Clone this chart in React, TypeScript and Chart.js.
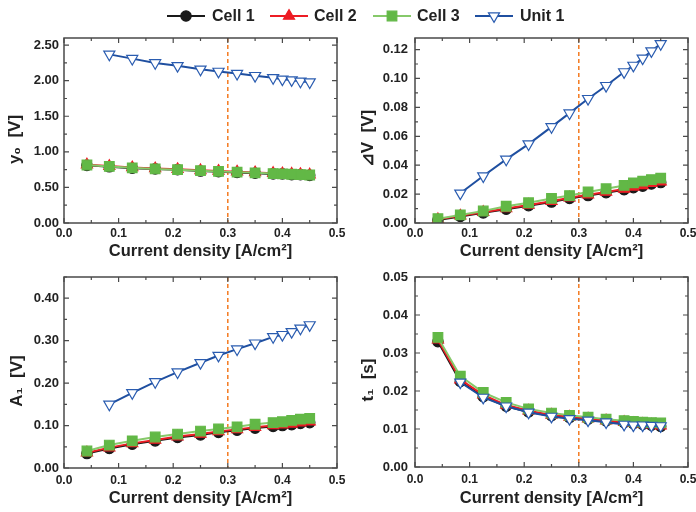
import React, { useEffect, useRef } from "react";
import { Chart, registerables } from "chart.js";

Chart.register(...registerables);

const FONT = '"Liberation Sans", Arial, sans-serif';
const TEXT = "#222222";

// ---------- data ----------
const currentDensity = [0.042, 0.083, 0.125, 0.167, 0.208, 0.25, 0.283, 0.317, 0.35, 0.383, 0.4, 0.417, 0.433, 0.45];
const unitDensity = [0.083, 0.125, 0.167, 0.208, 0.25, 0.283, 0.317, 0.35, 0.383, 0.4, 0.417, 0.433, 0.45];

const y0Cell1 = [0.81, 0.79, 0.77, 0.76, 0.75, 0.73, 0.72, 0.71, 0.70, 0.69, 0.69, 0.68, 0.68, 0.67];
const y0Cell2 = [0.82, 0.80, 0.78, 0.765, 0.755, 0.74, 0.73, 0.72, 0.71, 0.70, 0.695, 0.69, 0.685, 0.68];
const y0Cell3 = [0.815, 0.795, 0.775, 0.76, 0.75, 0.735, 0.725, 0.715, 0.705, 0.695, 0.69, 0.685, 0.68, 0.675];
const y0Unit1 = [2.37, 2.31, 2.25, 2.21, 2.16, 2.13, 2.10, 2.07, 2.04, 2.02, 2.01, 1.99, 1.98];

const dvCell1 = [0.0020, 0.0045, 0.0070, 0.0095, 0.0120, 0.0145, 0.0170, 0.0190, 0.0210, 0.0230, 0.0245, 0.0255, 0.0270, 0.0280];
const dvCell2 = [0.0025, 0.0050, 0.0075, 0.0100, 0.0125, 0.0150, 0.0175, 0.0195, 0.0215, 0.0235, 0.0250, 0.0260, 0.0275, 0.0285];
const dvCell3 = [0.0030, 0.0056, 0.0083, 0.0116, 0.0140, 0.0170, 0.0190, 0.0215, 0.0237, 0.0260, 0.0278, 0.0290, 0.0300, 0.0310];
const dvUnit1 = [0.0206, 0.0325, 0.0440, 0.0546, 0.0665, 0.0760, 0.0860, 0.0950, 0.1045, 0.1090, 0.1140, 0.1190, 0.1240];

const a1Cell1 = [0.034, 0.046, 0.056, 0.064, 0.072, 0.078, 0.084, 0.089, 0.094, 0.098, 0.100, 0.102, 0.105, 0.107];
const a1Cell2 = [0.036, 0.048, 0.058, 0.066, 0.074, 0.080, 0.086, 0.091, 0.096, 0.100, 0.102, 0.104, 0.107, 0.109];
const a1Cell3 = [0.040, 0.054, 0.064, 0.073, 0.080, 0.087, 0.092, 0.097, 0.103, 0.107, 0.109, 0.112, 0.115, 0.117];
const a1Unit1 = [0.150, 0.177, 0.203, 0.226, 0.248, 0.265, 0.280, 0.294, 0.309, 0.314, 0.321, 0.329, 0.337];

const t1Cell1 = [0.0330, 0.0225, 0.0185, 0.0160, 0.0145, 0.0135, 0.0130, 0.0126, 0.0121, 0.0117, 0.0114, 0.0112, 0.0110, 0.0107];
const t1Cell2 = [0.0335, 0.0230, 0.0190, 0.0163, 0.0148, 0.0137, 0.0132, 0.0127, 0.0122, 0.0118, 0.0115, 0.0113, 0.0111, 0.0109];
const t1Cell3 = [0.0341, 0.0239, 0.0196, 0.0170, 0.0153, 0.0142, 0.0136, 0.0131, 0.0126, 0.0122, 0.0120, 0.0118, 0.0117, 0.0116];
const t1Unit1 = [0.0223, 0.0183, 0.0160, 0.0144, 0.0133, 0.0127, 0.0123, 0.0118, 0.0112, 0.0110, 0.0110, 0.0109, 0.0108];

const seriesNames = ["Cell 1", "Cell 2", "Cell 3", "Unit 1"];
const xTitle = "Current density [A/cm²]";
const xTicks = [0, 0.1, 0.2, 0.3, 0.4, 0.5];
const markerX = 0.3;

// ---------- styles ----------
const STYLES: any[] = [
  { line: "#1a1a1a", fill: "#1a1a1a", stroke: "#1a1a1a", shape: "circle", r: 5.2, order: 4 },
  { line: "#ed1c24", fill: "#ed1c24", stroke: "#ed1c24", shape: "triangle", r: 6.4, order: 3 },
  { line: "#86c96a", fill: "#62b846", stroke: "#62b846", shape: "rect", r: 6.8, order: 2 },
  { line: "#1f4fa0", fill: "#ffffff", stroke: "#2a5cb0", shape: "down", r: 6.4, order: 1 },
];

function makeDataset(i: number, xs: number[], ys: number[]) {
  const s = STYLES[i];
  return {
    label: seriesNames[i],
    data: xs.map((x, k) => ({ x, y: ys[k] })),
    showLine: true,
    borderColor: s.line,
    backgroundColor: s.fill,
    borderWidth: 2,
    pointBorderColor: s.stroke,
    pointBackgroundColor: s.fill,
    pointBorderWidth: 1.2,
    pointStyle: s.shape === "down" ? "triangle" : s.shape,
    pointRotation: s.shape === "down" ? 180 : 0,
    pointRadius: s.r,
    pointHoverRadius: s.r,
    order: s.order,
  };
}

function drawMarker(ctx: CanvasRenderingContext2D, s: any, x: number, y: number) {
  ctx.save();
  ctx.fillStyle = s.fill;
  ctx.strokeStyle = s.stroke;
  ctx.lineWidth = 1.2;
  ctx.beginPath();
  const r = s.r;
  if (s.shape === "circle") {
    ctx.arc(x, y, r, 0, Math.PI * 2);
  } else if (s.shape === "rect") {
    const h = r * Math.SQRT1_2;
    ctx.rect(x - h, y - h, 2 * h, 2 * h);
  } else if (s.shape === "triangle") {
    ctx.moveTo(x, y - r);
    ctx.lineTo(x + 0.866 * r, y + r / 2);
    ctx.lineTo(x - 0.866 * r, y + r / 2);
    ctx.closePath();
  } else {
    ctx.moveTo(x, y + r);
    ctx.lineTo(x + 0.866 * r, y - r / 2);
    ctx.lineTo(x - 0.866 * r, y - r / 2);
    ctx.closePath();
  }
  ctx.fill();
  ctx.stroke();
  ctx.restore();
}

// ---------- plugins ----------
const framePlugin = {
  id: "frame",
  beforeDatasetsDraw(chart: any) {
    const { ctx, chartArea: a, scales } = chart;
    const px = scales.x.getPixelForValue(markerX);
    ctx.save();
    ctx.strokeStyle = "#f47a20";
    ctx.lineWidth = 1.5;
    ctx.setLineDash([4, 3]);
    ctx.beginPath();
    ctx.moveTo(px, a.top);
    ctx.lineTo(px, a.bottom);
    ctx.stroke();
    ctx.restore();
  },
  afterDraw(chart: any) {
    const { ctx, chartArea: a, scales } = chart;
    const o = chart.options.plugins.frame;
    ctx.save();
    ctx.strokeStyle = "#4a4a4a";
    ctx.lineWidth = 1.5;
    ctx.strokeRect(a.left, a.top, a.right - a.left, a.bottom - a.top);
    ctx.lineWidth = 1.2;
    const drawX = (v: number, len: number) => {
      const p = scales.x.getPixelForValue(v);
      ctx.beginPath();
      ctx.moveTo(p, a.bottom);
      ctx.lineTo(p, a.bottom - len);
      ctx.moveTo(p, a.top);
      ctx.lineTo(p, a.top + len);
      ctx.stroke();
    };
    const drawY = (v: number, len: number) => {
      const p = scales.y.getPixelForValue(v);
      ctx.beginPath();
      ctx.moveTo(a.left, p);
      ctx.lineTo(a.left + len, p);
      ctx.moveTo(a.right, p);
      ctx.lineTo(a.right - len, p);
      ctx.stroke();
    };
    xTicks.forEach((v, i) => {
      drawX(v, 5);
      if (i < xTicks.length - 1) drawX(v + 0.05, 3);
    });
    for (let v = 0; v <= o.ymax + 1e-9; v += o.ystep) {
      drawY(v, 5);
      if (v + o.ystep / 2 <= o.ymax) drawY(v + o.ystep / 2, 3);
    }
    // y title
    ctx.fillStyle = TEXT;
    ctx.font = `bold 17px ${FONT}`;
    ctx.textAlign = "center";
    ctx.textBaseline = "middle";
    ctx.translate(o.titleX, (a.top + a.bottom) / 2 + o.titleDy);
    ctx.rotate(-Math.PI / 2);
    ctx.fillText(o.yTitle, 0, 0);
    ctx.restore();
  },
};

const legendPlugin = {
  id: "customLegend",
  afterDraw(chart: any) {
    const { ctx } = chart;
    const markers = [186, 289, 392, 494];
    const texts = [212, 314, 417, 520];
    const y = 16;
    seriesNames.forEach((name, i) => {
      const s = STYLES[i];
      ctx.save();
      ctx.strokeStyle = s.line;
      ctx.lineWidth = 2;
      ctx.beginPath();
      ctx.moveTo(markers[i] - 19, y);
      ctx.lineTo(markers[i] + 19, y);
      ctx.stroke();
      ctx.restore();
      drawMarker(ctx, s, markers[i], y);
      ctx.save();
      ctx.fillStyle = TEXT;
      ctx.font = `bold 16px ${FONT}`;
      ctx.textAlign = "left";
      ctx.textBaseline = "middle";
      ctx.fillText(name, texts[i], y + 1);
      ctx.restore();
    });
  },
};

// ---------- panels ----------
type PanelSpec = {
  left: number; top: number; width: number; height: number;
  padTop: number; padRight: number; yWidth: number; xHeight: number;
  ymax: number; ystep: number; ydigits: number;
  yTitle: string; titleX: number; titleDy: number; xTitlePad: number; yTickPad: number; xTickPad: number;
  series: [number[], number[], number[], number[]];
};

const PANELS: PanelSpec[] = [
  { left: 0, top: 30, width: 348, height: 230, padTop: 3, padRight: 11, yWidth: 64, xHeight: 37,
    ymax: 2.6, ystep: 0.5, ydigits: 2, yTitle: "y₀  [V]", titleX: 15, titleDy: 9, xTitlePad: 0.75, yTickPad: 5, xTickPad: 3,
    series: [y0Cell1, y0Cell2, y0Cell3, y0Unit1] },
  { left: 348, top: 30, width: 348, height: 230, padTop: 3, padRight: 8, yWidth: 67, xHeight: 37,
    ymax: 0.128, ystep: 0.02, ydigits: 2, yTitle: "⊿V  [V]", titleX: 20, titleDy: 8, xTitlePad: 0.75, yTickPad: 7, xTickPad: 3,
    series: [dvCell1, dvCell2, dvCell3, dvUnit1] },
  { left: 0, top: 260, width: 348, height: 252, padTop: 17, padRight: 11, yWidth: 64, xHeight: 44,
    ymax: 0.45, ystep: 0.1, ydigits: 2, yTitle: "A₁  [V]", titleX: 17.5, titleDy: 8.5, xTitlePad: 5.75, yTickPad: 5, xTickPad: 5,
    series: [a1Cell1, a1Cell2, a1Cell3, a1Unit1] },
  { left: 348, top: 260, width: 348, height: 252, padTop: 17, padRight: 8, yWidth: 67, xHeight: 45,
    ymax: 0.05, ystep: 0.01, ydigits: 2, yTitle: "t₁  [s]", titleX: 20, titleDy: 8, xTitlePad: 5.75, yTickPad: 7, xTickPad: 5,
    series: [t1Cell1, t1Cell2, t1Cell3, t1Unit1] },
];

function Panel({ spec }: { spec: PanelSpec }) {
  const ref = useRef<HTMLCanvasElement>(null);
  useEffect(() => {
    const canvas = ref.current!;
    const datasets = spec.series.map((ys, i) =>
      makeDataset(i, i === 3 ? unitDensity : currentDensity, ys)
    );
    const chart = new Chart(canvas, {
      type: "scatter",
      data: { datasets },
      plugins: [framePlugin],
      options: {
        responsive: false,
        animation: false,
        events: [],
        layout: { padding: { top: spec.padTop, right: spec.padRight, left: 0, bottom: 0 } },
        plugins: {
          legend: { display: false },
          tooltip: { enabled: false },
          frame: { ymax: spec.ymax, ystep: spec.ystep, yTitle: spec.yTitle, titleX: spec.titleX, titleDy: spec.titleDy },
        } as any,
        scales: {
          x: {
            type: "linear",
            min: 0,
            max: 0.5,
            grid: { display: false, drawTicks: false },
            border: { display: false },
            ticks: {
              stepSize: 0.1,
              includeBounds: false,
              autoSkip: false,
              maxRotation: 0,
              padding: spec.xTickPad,
              color: TEXT,
              font: { family: FONT, size: 12, weight: "bold" },
              callback: (v: any) => Number(v).toFixed(1),
            },
            title: {
              display: true,
              text: xTitle,
              color: TEXT,
              font: { family: FONT, size: 16.5, weight: "bold", lineHeight: 1.0 },
              padding: { top: 0, bottom: spec.xTitlePad },
            },
            afterFit: (s: any) => {
              s.height = spec.xHeight;
              s.paddingLeft = 0;
              s.paddingRight = 0;
            },
          },
          y: {
            type: "linear",
            min: 0,
            max: spec.ymax,
            grid: { display: false, drawTicks: false },
            border: { display: false },
            ticks: {
              stepSize: spec.ystep,
              includeBounds: false,
              autoSkip: false,
              padding: spec.yTickPad,
              color: TEXT,
              font: { family: FONT, size: 13, weight: "bold" },
              callback: (v: any) => Number(v).toFixed(spec.ydigits),
            },
            afterFit: (s: any) => {
              s.width = spec.yWidth;
              s.paddingTop = 0;
              s.paddingBottom = 0;
            },
          },
        },
      } as any,
    });
    return () => chart.destroy();
  }, [spec]);
  return (
    <canvas
      ref={ref}
      width={spec.width}
      height={spec.height}
      style={{ position: "absolute", left: spec.left, top: spec.top, width: spec.width, height: spec.height }}
    />
  );
}

function LegendBar() {
  const ref = useRef<HTMLCanvasElement>(null);
  useEffect(() => {
    const chart = new Chart(ref.current!, {
      type: "scatter",
      data: { datasets: [] },
      plugins: [legendPlugin],
      options: {
        responsive: false,
        animation: false,
        events: [],
        plugins: { legend: { display: false }, tooltip: { enabled: false } },
        scales: { x: { display: false }, y: { display: false } },
      } as any,
    });
    return () => chart.destroy();
  }, []);
  return (
    <canvas ref={ref} width={696} height={30} style={{ position: "absolute", left: 0, top: 0, width: 696, height: 30 }} />
  );
}

export default function App() {
  return (
    <div style={{ position: "fixed", left: 0, top: 0, width: 696, height: 512, background: "#ffffff", overflow: "hidden" }}>
      <LegendBar />
      {PANELS.map((p, i) => (
        <Panel key={i} spec={p} />
      ))}
    </div>
  );
}
